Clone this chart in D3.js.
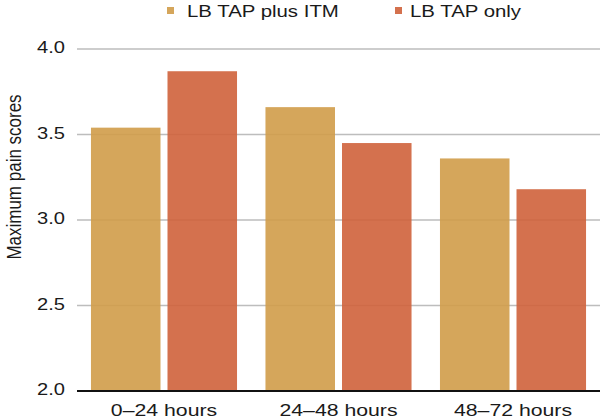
<!DOCTYPE html>
<html>
<head>
<meta charset="utf-8">
<script src="https://cdn.jsdelivr.net/npm/d3@7"></script>
<style>
  html, body { margin: 0; padding: 0; background: #fff; }
  text { font-family: "Liberation Sans", Arial, Helvetica, sans-serif; fill: #1a1a1a; }
</style>
</head>
<body>
<svg id="chart" width="608" height="420"></svg>
<script>
const categories = ["0\u201324 hours", "24\u201348 hours", "48\u201372 hours"];
const seriesNames = ["LB TAP plus ITM", "LB TAP only"];
const plusITM = [3.54, 3.66, 3.36];
const tapOnly = [3.87, 3.45, 3.18];
const yTicks = [2.0, 2.5, 3.0, 3.5, 4.0];
const colors = ["#D09C49", "#CF623B"];

const seriesValues = [plusITM, tapOnly];
const svg = d3.select("#chart");
const plotLeft = 77, plotRight = 600, plotTop = 49, plotBottom = 391;
const sx = 1.22; // horizontal text stretch

const y = d3.scaleLinear().domain([2.0, 4.0]).range([plotBottom, plotTop]);
const x0 = d3.scaleBand().domain(categories).range([plotLeft, plotRight])
  .paddingInner(0.163).paddingOuter(0.08);
const x1 = d3.scaleBand().domain(seriesNames).range([0, x0.bandwidth()])
  .paddingInner(0.0915);

// gridlines
svg.append("g").selectAll("line").data(yTicks.filter(t => t > 2.0)).join("line")
  .attr("x1", plotLeft).attr("x2", plotRight)
  .attr("y1", d => y(d)).attr("y2", d => y(d))
  .attr("stroke", "#bdbdbd").attr("stroke-width", 1.5);

// y tick labels
svg.append("g").selectAll("text").data(yTicks).join("text")
  .attr("transform", d => `translate(65,${y(d) - 1.5}) scale(${sx},1)`)
  .attr("text-anchor", "end").attr("dy", "0.35em")
  .style("font-size", "16.5px")
  .text(d => d.toFixed(1));

// bars
const groups = svg.append("g").selectAll("g").data(categories).join("g")
  .attr("transform", d => `translate(${x0(d)},0)`);
groups.selectAll("rect")
  .data((c, i) => seriesNames.map((s, j) => ({ s, j, v: seriesValues[j][i] })))
  .join("rect")
  .attr("x", d => x1(d.s))
  .attr("width", x1.bandwidth())
  .attr("y", d => y(d.v))
  .attr("height", d => y(2.0) - y(d.v))
  .attr("fill", d => colors[d.j])
  .attr("fill-opacity", 0.9);

// x axis line
svg.append("line").attr("x1", plotLeft).attr("x2", plotRight)
  .attr("y1", plotBottom).attr("y2", plotBottom)
  .attr("stroke", "#111").attr("stroke-width", 2);

// x labels
svg.append("g").selectAll("text").data(categories).join("text")
  .attr("transform", d => `translate(${x0(d) + x0.bandwidth() / 2},416) scale(1.25,1)`)
  .attr("text-anchor", "middle")
  .style("font-size", "17px")
  .text(d => d);

// y axis title
svg.append("text")
  .attr("transform", "translate(21,177) rotate(-90) scale(1,1.2)")
  .attr("text-anchor", "middle")
  .style("font-size", "17px")
  .text("Maximum pain scores");

// legend
const legendX = [167, 395];
const lg = svg.append("g").selectAll("g").data(seriesNames).join("g")
  .attr("transform", (d, i) => `translate(${legendX[i]},0)`);
lg.append("rect").attr("x", 0).attr("y", 7).attr("width", 7).attr("height", 7)
  .attr("fill", (d, i) => colors[i]).attr("fill-opacity", 0.9);
lg.append("text")
  .attr("transform", (d, i) => `translate(${i === 0 ? 20 : 15},17) scale(1.2,1)`)
  .style("font-size", "17px")
  .text(d => d);
</script>
</body>
</html>
